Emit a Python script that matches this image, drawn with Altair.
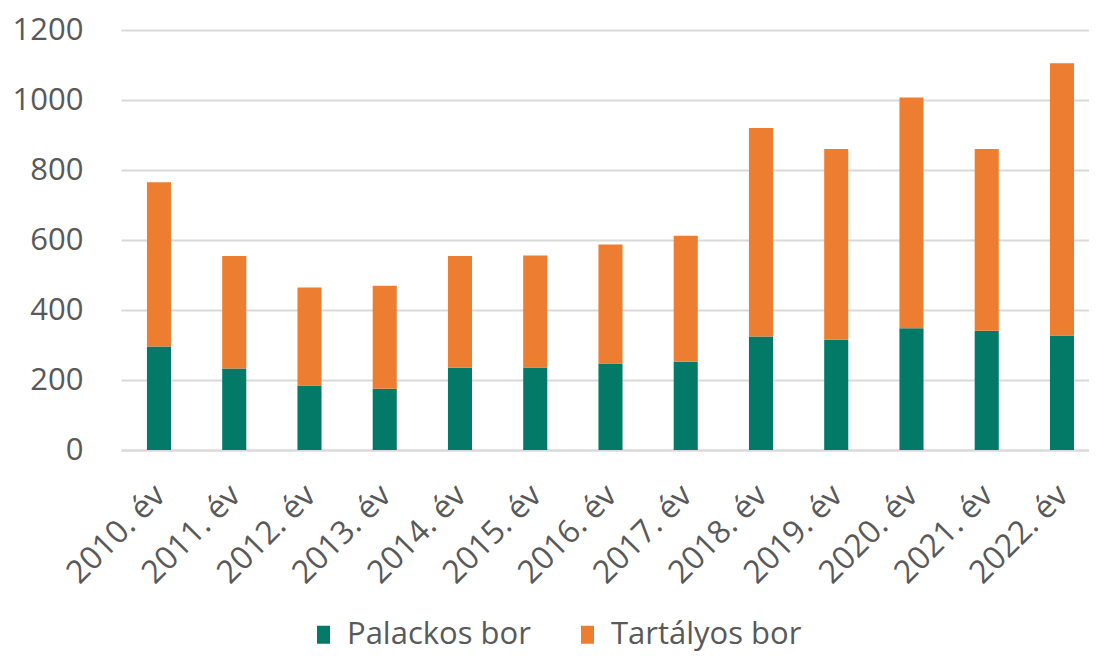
import altair as alt
import pandas as pd

years = ["2010. év", "2011. év", "2012. év", "2013. év", "2014. év", "2015. év", "2016. év",
         "2017. év", "2018. év", "2019. év", "2020. év", "2021. év", "2022. év"]
palackos = [296, 233, 184, 175, 235, 236, 247, 252, 324, 315, 348, 341, 327]
totals = [765, 554, 464, 469, 554, 556, 587, 612, 920, 860, 1007, 860, 1105]
tartalyos = [t - p for t, p in zip(totals, palackos)]
series = ["Palackos bor", "Tartályos bor"]
colors = ["#037A68", "#ED7D31"]

rows = []
for y, p, t in zip(years, palackos, tartalyos):
    rows.append({"ev": y, "sorozat": series[0], "ertek": p, "rend": 0})
    rows.append({"ev": y, "sorozat": series[1], "ertek": t, "rend": 1})
df = pd.DataFrame(rows)

FONT = "Open Sans"
GRAY = "#595959"

chart = alt.Chart(df).mark_bar().encode(
    x=alt.X("ev:N", sort=years, title=None,
            scale=alt.Scale(paddingInner=0.68, paddingOuter=0.272, align=0.634),
            axis=alt.Axis(labelAngle=-45, labelAlign="right", labelBaseline="middle",
                          labelPadding=40, labelOffset=1, ticks=False,
                          domainColor="#D9D9D9", domainWidth=2,
                          labelFont=FONT, labelFontSize=32, labelColor=GRAY)),
    y=alt.Y("ertek:Q", stack="zero", title=None,
            scale=alt.Scale(domain=[0, 1200], nice=False),
            axis=alt.Axis(values=[0, 200, 400, 600, 800, 1000, 1200], format="d",
                          ticks=False, domain=False,
                          gridColor="#D9D9D9", gridWidth=2, labelPadding=38,
                          labelFont=FONT, labelFontSize=31, labelColor=GRAY)),
    color=alt.Color("sorozat:N", sort=series, title=None,
                    scale=alt.Scale(domain=series, range=colors),
                    legend=alt.Legend(orient="none", legendX=187, legendY=589, direction="horizontal",
                                      symbolType="M-0.72,-1H0.72V1H-0.72Z", symbolSize=324,
                                      symbolStrokeWidth=0, labelOffset=8, columnPadding=41,
                                      labelFont=FONT, labelFontSize=31, labelColor=GRAY,
                                      labelLimit=400)),
    order=alt.Order("rend:Q", sort="ascending"),
).properties(
    width=968, height=420,
    autosize=alt.AutoSizeParams(type="none"),
    padding={"left": 113, "top": 22, "right": 0, "bottom": 202},
).configure_view(stroke=None)

chart.save("out.html", embed_options={"renderer": "svg", "actions": False})
